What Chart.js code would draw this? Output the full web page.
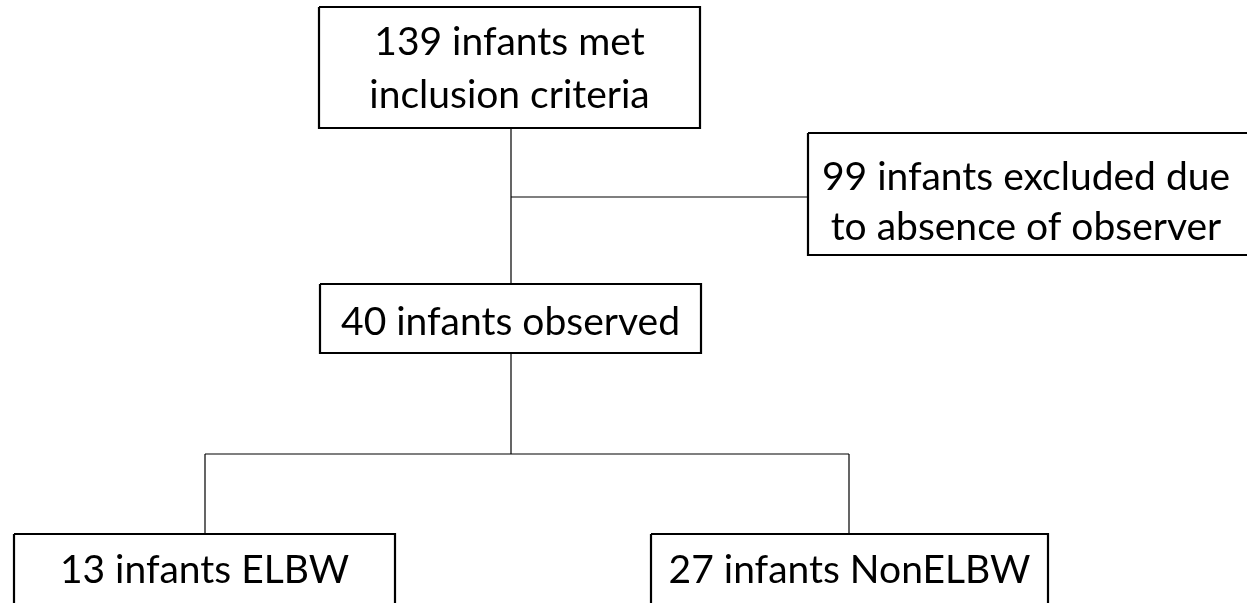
<!DOCTYPE html>
<html>
<head>
<meta charset="utf-8">
<script src="https://cdn.jsdelivr.net/npm/chart.js@4"></script>
<style>
  html, body { margin: 0; padding: 0; background: #fff; }
  #wrap { width: 1247px; height: 603px; }
</style>
</head>
<body>
<div id="wrap"><canvas id="flow" width="1247" height="603"></canvas></div>
<script>
// flow stages and counts
const stages = ['met inclusion criteria', 'excluded', 'observed', 'ELBW', 'NonELBW'];
const counts = [139, 99, 40, 13, 27];
const boxText = [
    ['139 infants met', 'inclusion criteria'],
    ['99 infants excluded due', 'to absence of observer'],
    ['40 infants observed'],
    ['13 infants ELBW'],
    ['27 infants NonELBW']
];

// box frames in diagram units [left, top, right, bottom]
const boxes = [
    [319, 7, 700, 128],
    [808, 133, 1260, 255],
    [320, 284, 701, 353],
    [14, 534, 395, 640],
    [651, 534, 1048, 640]
];
const textY = [[42, 95], [177, 227], [322], [570], [570]];

// connectors [x1, y1, x2, y2]
const links = [
    [511, 128, 511, 284],
    [511, 197, 808, 197],
    [511, 353, 511, 454],
    [205, 454, 849, 454],
    [205, 454, 205, 534],
    [849, 454, 849, 534]
];

const rect = b => [
    { x: b[0], y: b[1] }, { x: b[2], y: b[1] }, { x: b[2], y: b[3] },
    { x: b[0], y: b[3] }, { x: b[0], y: b[1] }
];

const datasets = [
    ...links.map(l => ({
        data: [{ x: l[0], y: l[1] }, { x: l[2], y: l[3] }],
        showLine: true, borderColor: '#000', borderWidth: 1.2, pointRadius: 0
    })),
    ...boxes.map((b, i) => ({
        label: stages[i],
        data: rect(b),
        showLine: true, borderColor: '#000', borderWidth: 2.2, pointRadius: 0,
        borderJoinStyle: 'miter', fill: false
    }))
];

const boxLabels = {
    id: 'boxLabels',
    afterDatasetsDraw(chart) {
        const { ctx, scales: { x, y } } = chart;
        ctx.save();
        ctx.fillStyle = '#000';
        ctx.font = '39px Lato';
        ctx.textAlign = 'center';
        ctx.textBaseline = 'middle';
        boxes.forEach((b, i) => {
            const cx = x.getPixelForValue((b[0] + Math.min(b[2], 1244)) / 2);
            boxText[i].forEach((t, j) => {
                ctx.fillText(t, cx, y.getPixelForValue(textY[i][j]));
            });
        });
        ctx.restore();
    }
};

new Chart(document.getElementById('flow'), {
    type: 'scatter',
    data: { datasets },
    options: {
        responsive: false,
        animation: false,
        layout: { padding: 0 },
        plugins: { legend: { display: false }, tooltip: { enabled: false } },
        scales: {
            x: { type: 'linear', min: 0, max: 1247, display: false },
            y: { type: 'linear', min: 0, max: 603, reverse: true, display: false }
        }
    },
    plugins: [boxLabels]
});
</script>
</body>
</html>
